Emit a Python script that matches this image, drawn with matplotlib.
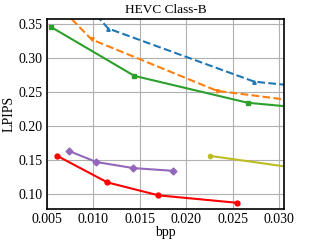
import numpy as np
import matplotlib
matplotlib.use('Agg')
import matplotlib.pyplot as plt

plt.rcParams['font.family'] = ['Liberation Serif', 'DejaVu Serif']

# series
blue_x = [0.0095, 0.0116, 0.0273, 0.0345]
blue_y = [0.375, 0.343, 0.265, 0.255]
orange_x = [0.0060, 0.0098, 0.0233, 0.0345]
orange_y = [0.380, 0.327, 0.2515, 0.232]
green_x = [0.0054, 0.0144, 0.0266, 0.0345]
green_y = [0.3456, 0.2735, 0.234, 0.224]
purple_x = [0.0074, 0.0103, 0.0143, 0.0186]
purple_y = [0.163, 0.147, 0.138, 0.134]
red_x = [0.0061, 0.0115, 0.0170, 0.0255]
red_y = [0.156, 0.117, 0.098, 0.087]
olive_x = [0.0225, 0.0345]
olive_y = [0.156, 0.133]

fig = plt.figure(figsize=(3.09, 2.47), dpi=100)
ax = fig.add_axes([0.152, 0.154, 0.767, 0.769])

ax.plot(blue_x, blue_y, '--', color='#1f77b4', marker='^', ms=2.5, lw=1.5)
ax.plot(orange_x, orange_y, '--', color='#ff7f0e', marker='v', ms=2.5, lw=1.5)
ax.plot(green_x, green_y, '-', color='#2ca02c', marker='s', ms=3.5, lw=1.5)
ax.plot(purple_x, purple_y, '-', color='#9467bd', marker='D', ms=3.5, lw=1.5)
ax.plot(red_x, red_y, '-', color='red', marker='o', ms=3.5, lw=1.5)
ax.plot(olive_x, olive_y, '-', color='#bcbd22', marker='o', ms=3, lw=1.5)

ax.set_xlim(0.005, 0.0305)
ax.set_ylim(0.078, 0.357)
ax.set_xticks([0.005, 0.010, 0.015, 0.020, 0.025, 0.030])
ax.set_yticks([0.10, 0.15, 0.20, 0.25, 0.30, 0.35])
ax.xaxis.set_major_formatter(matplotlib.ticker.FormatStrFormatter('%.3f'))
ax.yaxis.set_major_formatter(matplotlib.ticker.FormatStrFormatter('%.2f'))
ax.tick_params(labelsize=10, length=0, pad=3)
ax.grid(True, color='#b0b0b0', lw=0.8)
for s in ax.spines.values():
    s.set_color('black')
    s.set_linewidth(1.2)
ax.set_title('HEVC Class-B', fontsize=9.5, pad=4)
ax.set_xlabel('bpp', fontsize=10, labelpad=0)
ax.set_ylabel('LPIPS', fontsize=10, labelpad=2)

fig.savefig('out.png', dpi=100)
